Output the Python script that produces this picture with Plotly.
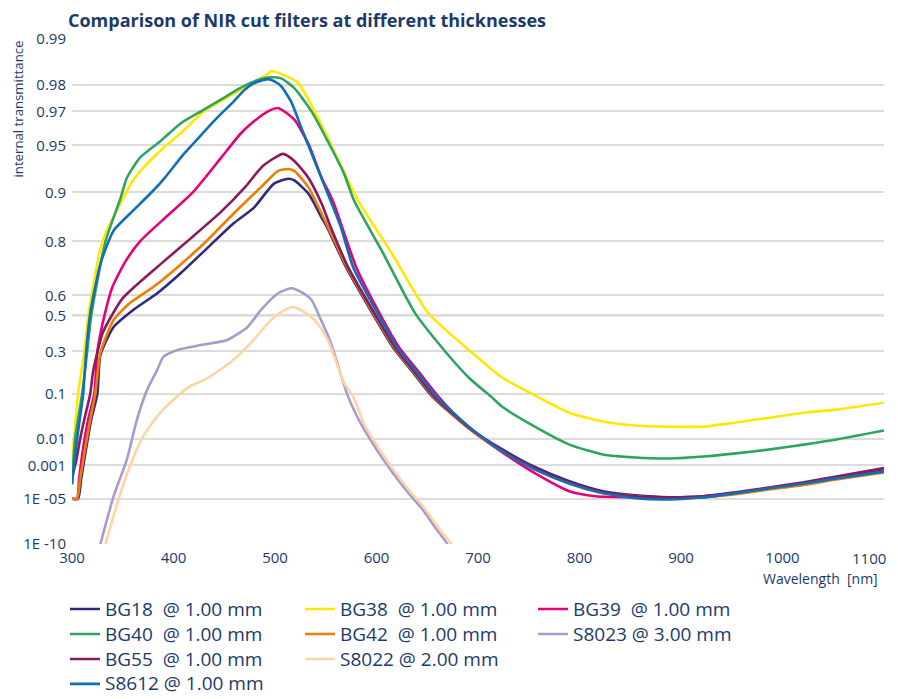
import numpy as np
import plotly.graph_objects as go

# ---------------- data (internal transmittance) ----------------
bg18_wl = [300, 306, 309, 314, 319, 325, 328, 341, 360, 384, 407, 434, 459, 479, 499, 513, 519, 533, 546, 552,
           570, 596, 616, 636, 655, 689, 724, 756, 790, 823, 855, 889, 922, 954, 988, 1021, 1053, 1100]
bg18_t = [1e-5, 1e-5, 2e-4, 0.005, 0.033, 0.1, 0.28, 0.437, 0.527, 0.61, 0.695, 0.783, 0.844, 0.875, 0.912, 0.918,
          0.916, 0.898, 0.856, 0.832, 0.718, 0.511, 0.325, 0.19, 0.09, 0.022, 0.0045, 8.4e-4, 1.5e-4, 3.5e-5,
          1.8e-5, 1.3e-5, 1.55e-5, 2.6e-5, 5.5e-5, 1.1e-4, 2.5e-4, 5.7e-4]

bg38_wl = [300, 302, 306, 312, 316, 330, 350, 360, 370, 390, 410, 430, 450, 469, 493, 496, 506, 523, 539, 555,
           572, 582, 615, 651, 691, 724, 760, 790, 823, 855, 889, 922, 954, 988, 1021, 1053, 1100]
bg38_t = [0.002, 0.01, 0.1, 0.29, 0.5, 0.8, 0.89, 0.916, 0.930, 0.948, 0.960, 0.970, 0.975, 0.979, 0.983, 0.9837,
          0.983, 0.9804, 0.970, 0.951, 0.916, 0.887, 0.765, 0.511, 0.308, 0.165, 0.087, 0.046, 0.0294, 0.0235,
          0.022, 0.022, 0.028, 0.036, 0.046, 0.053, 0.071]

bg39_wl = [300, 305, 307, 311, 316, 322, 325, 332, 340, 353, 367, 394, 419, 447, 466, 479, 493, 503, 519,
           533, 546, 557, 580, 603, 622, 642, 661, 690, 724, 756, 790, 816, 855, 889, 922, 954, 988, 1021, 1053, 1100]
bg39_t = [1e-5, 1e-5, 2e-4, 0.005, 0.033, 0.1, 0.3, 0.5, 0.64, 0.74, 0.80, 0.86, 0.90, 0.94, 0.958, 0.965,
          0.970, 0.9715, 0.966, 0.951, 0.919, 0.887, 0.718, 0.511, 0.325, 0.19, 0.09, 0.021, 0.0035, 4.2e-4,
          3.5e-5, 1.55e-5, 1.3e-5, 1.1e-5, 1.3e-5, 2.6e-5, 5.5e-5, 1.1e-4, 2.2e-4, 5e-4]

bg40_wl = [300, 303, 310, 315, 319, 333, 348, 354, 367, 387, 407, 427, 447, 466, 486, 496, 506, 519, 536, 552, 568,
           578, 605, 638, 664, 691, 714, 724, 756, 790, 823, 855, 889, 922, 954, 988, 1021, 1053, 1100]
bg40_t = [1e-4, 0.01, 0.1, 0.3, 0.5, 0.8, 0.892, 0.919, 0.940, 0.953, 0.964, 0.970, 0.975, 0.979, 0.9816, 0.9821,
          0.9818, 0.9789, 0.970, 0.953, 0.924, 0.887, 0.774, 0.5115, 0.3246, 0.165, 0.0867, 0.060, 0.022, 0.0066,
          0.0029, 0.0022, 0.0020, 0.0024, 0.0032, 0.0045, 0.0066, 0.0096, 0.0175]

bg42_wl = [300, 305, 308, 313, 318, 323, 328, 341, 357, 380, 404, 430, 459, 486, 503, 513, 519, 533, 546, 553,
           571, 597, 617, 637, 656, 690, 724, 756, 790, 823, 855, 889, 922, 954, 988, 1021, 1053, 1100]
bg42_t = [1e-5, 1e-5, 2e-4, 0.005, 0.033, 0.1, 0.292, 0.475, 0.563, 0.638, 0.718, 0.794, 0.864, 0.907, 0.927, 0.929,
          0.927, 0.907, 0.864, 0.832, 0.718, 0.511, 0.325, 0.19, 0.09, 0.021, 0.0038, 6.5e-4, 1.1e-4, 2.6e-5,
          1.55e-5, 1.1e-5, 1.3e-5, 2.15e-5, 4.7e-5, 9e-5, 1.9e-4, 4.6e-4]

s8023_wl = [328, 341, 354, 364, 374, 384, 390, 404, 427, 453, 473, 486, 503, 516, 526, 536, 544, 554, 572, 585,
            600, 615, 630, 645, 659, 670]
s8023_t = [1e-10, 1.55e-5, 0.0018, 0.0327, 0.114, 0.2025, 0.27, 0.308, 0.336, 0.364, 0.437, 0.527, 0.61, 0.633,
           0.615, 0.578, 0.491, 0.364, 0.09, 0.025, 0.0045, 5.1e-4, 3.5e-5, 1.4e-6, 1.1e-8, 1e-10]

bg55_wl = [300, 304, 308, 313, 318, 321, 330, 340, 350, 362, 387, 417, 447, 471, 488, 508, 519, 533, 546,
           555, 572, 598, 618, 638, 657, 690, 724, 756, 790, 823, 855, 889, 922, 954, 988, 1021, 1053, 1100]
bg55_t = [2.5e-4, 1.5e-3, 0.01, 0.04, 0.1, 0.2, 0.4, 0.507, 0.587, 0.641, 0.728, 0.808, 0.868, 0.908, 0.932, 0.9433,
          0.937, 0.919, 0.882, 0.835, 0.718, 0.511, 0.325, 0.19, 0.09, 0.022, 0.0041, 7.4e-4, 1.3e-4, 3e-5,
          1.55e-5, 1.3e-5, 1.55e-5, 3e-5, 6.3e-5, 1.3e-4, 2.8e-4, 7.5e-4]

s8022_wl = [333, 345, 357, 370, 387, 400, 414, 434, 459, 479, 493, 506, 519, 539, 552, 568, 577, 588, 603, 618,
            633, 648, 662, 674]
s8022_t = [1e-10, 5.3e-6, 9.1e-4, 0.0118, 0.0463, 0.080, 0.1224, 0.1647, 0.2537, 0.364, 0.458, 0.517, 0.543, 0.475,
           0.364, 0.143, 0.09, 0.025, 0.0045, 5.1e-4, 3.5e-5, 1.4e-6, 1.1e-8, 1e-10]

s8612_wl = [300, 305, 311, 314, 318, 328, 341, 357, 377, 390, 410, 427, 443, 459, 469, 479, 493, 499, 506, 516,
            526, 539, 552, 565, 577, 601, 620, 640, 659, 692, 724, 756, 790, 823, 855, 889, 922, 954, 988, 1021,
            1053, 1100]
s8612_t = [1e-4, 0.01, 0.1, 0.3, 0.511, 0.73, 0.8276, 0.864, 0.898, 0.917, 0.943, 0.957, 0.967, 0.974, 0.978,
           0.9804, 0.9816, 0.981, 0.9795, 0.974, 0.9615, 0.937, 0.898, 0.835, 0.718, 0.511, 0.325, 0.19, 0.09, 0.021,
           0.0038, 6.5e-4, 1.1e-4, 2.6e-5, 1.1e-5, 9e-6, 1.3e-5, 2.6e-5, 5.5e-5, 1.1e-4, 2.2e-4, 5e-4]

y_tick_values = [0.99, 0.98, 0.97, 0.95, 0.9, 0.8, 0.6, 0.5, 0.3, 0.1, 0.01, 0.001, 1e-5, 1e-10]
y_tick_labels = ["0.99", "0.98", "0.97", "0.95", "0.9", "0.8", "0.6", "0.5", "0.3", "0.1", "0.01", "0.001",
                 "1E -05", "1E -10"]
x_tick_values = [300, 400, 500, 600, 700, 800, 900, 1000, 1100]
x_tick_labels = ["300", "400", "500", "600", "700", "800", "900", "1000", ""]
x_last_label = "1100"   # drawn pulled inside the right edge, as in the original

# name, wavelengths, transmittance, colour, legend column
series = [
    ("BG18\u00a0\u00a0@ 1.00 mm", bg18_wl, bg18_t, "#2f2a80", "legend"),
    ("BG38\u00a0\u00a0@ 1.00 mm", bg38_wl, bg38_t, "#ffe800", "legend2"),
    ("BG39\u00a0\u00a0@ 1.00 mm", bg39_wl, bg39_t, "#e5007d", "legend3"),
    ("BG40\u00a0\u00a0@ 1.00 mm", bg40_wl, bg40_t, "#2ea55e", "legend"),
    ("BG42\u00a0\u00a0@ 1.00 mm", bg42_wl, bg42_t, "#ef7d00", "legend2"),
    ("S8023\u00a0@ 3.00 mm", s8023_wl, s8023_t, "#a89bcb", "legend3"),
    ("BG55\u00a0\u00a0@ 1.00 mm", bg55_wl, bg55_t, "#8a1a5c", "legend"),
    ("S8022\u00a0@ 2.00 mm", s8022_wl, s8022_t, "#fdd4a6", "legend2"),
    ("S8612\u00a0@ 1.00 mm", s8612_wl, s8612_t, "#106eb5", "legend"),
]


def diabatic(t):
    """SCHOTT diabatic scale: -log10(-log10(T))."""
    t = np.asarray(t, dtype=float)
    return -np.log10(-np.log10(t))


NAVY = "#1b3a6b"
FONT = "Open Sans"
W, H = 890, 691
ML, MT, PW, PH = 64, 31, 812, 505

fig = go.Figure()
for name, wl, t, col, leg in series:
    fig.add_trace(go.Scatter(
        x=wl, y=diabatic(t), mode="lines",
        name='<span style="font-size:19px">' + name + "</span>",
        legend=leg,
        line=dict(color=col, width=2.6, shape="spline", smoothing=0.6),
    ))

y_lo = float(diabatic(1e-10))
y_hi = float(diabatic(0.99))

legend_common = dict(orientation="v", xref="paper", yref="container", xanchor="left",
                     yanchor="top", y=1 - 583.5 / H, font=dict(family=FONT, size=16.9, color=NAVY),
                     traceorder="normal", itemwidth=30, bgcolor="rgba(0,0,0,0)")

fig.update_layout(
    width=W, height=H,
    margin=dict(l=ML, r=W - ML - PW, t=MT, b=H - MT - PH, autoexpand=False),
    paper_bgcolor="white", plot_bgcolor="white",
    font=dict(family=FONT, color=NAVY),
    title=dict(text="<b>Comparison of NIR cut filters at different thicknesses</b>",
               x=60 / W, xref="container", xanchor="left",
               y=1 - 12.5 / H, yref="container", yanchor="middle",
               font=dict(family=FONT, size=18, color=NAVY)),
    xaxis=dict(range=[300, 1100], tickvals=x_tick_values, ticktext=x_tick_labels, showgrid=False,
               zeroline=False, showline=False, ticks="", ticklabelstandoff=3,
               tickfont=dict(size=15, color=NAVY)),
    yaxis=dict(range=[y_lo, y_hi], tickvals=list(diabatic(y_tick_values)), ticktext=y_tick_labels,
               showgrid=True, gridcolor="#dcdcdc", gridwidth=1.5, zeroline=False, showline=False,
               ticks="", ticklabelstandoff=5, tickfont=dict(size=15, color=NAVY)),
    showlegend=True,
    legend=dict(x=(57 - ML) / PW, **legend_common),
    legend2=dict(x=(292 - ML) / PW, **legend_common),
    legend3=dict(x=(525 - ML) / PW, **legend_common),
    shapes=[dict(type="line", xref="paper", x0=0, x1=1, yref="y",
                 y0=float(diabatic(0.5)), y1=float(diabatic(0.5)),
                 line=dict(color="#a9a9a9", width=2), layer="between")],
    annotations=[
        dict(text="internal transmittance", textangle=-90, xref="paper", yref="paper",
             x=(9.5 - ML) / PW, y=(MT + PH - 101) / PH, xanchor="center", yanchor="middle",
             showarrow=False, font=dict(family=FONT, size=13.2, color=NAVY)),
        dict(text="Wavelength\u00a0\u00a0[nm]", xref="paper", yref="paper",
             x=(872 - ML) / PW, y=(MT + PH - 570) / PH, xanchor="right", yanchor="middle",
             showarrow=False, font=dict(family=FONT, size=14, color=NAVY)),
        dict(text=x_last_label, xref="paper", yref="paper",
             x=(880 - ML) / PW, y=(MT + PH - 550) / PH, xanchor="right", yanchor="middle",
             showarrow=False, font=dict(family=FONT, size=15, color=NAVY)),
    ],
)

fig.write_html("out.html")
